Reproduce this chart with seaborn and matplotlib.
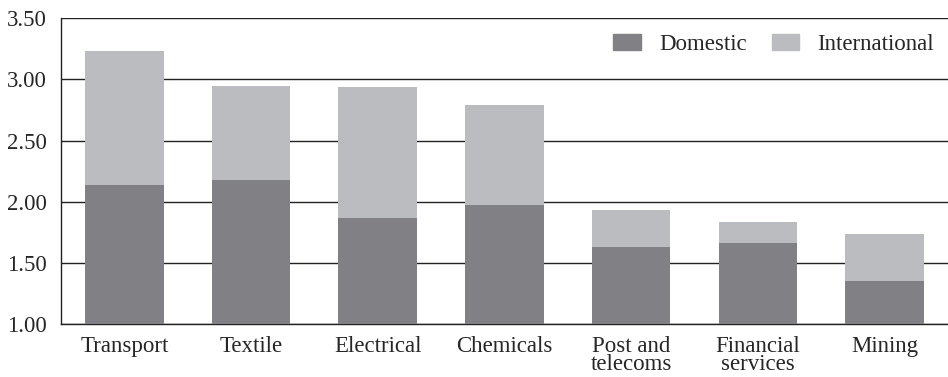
import numpy as np
import pandas as pd
import matplotlib.pyplot as plt
from matplotlib.patches import Patch
import seaborn as sns

sectors = ["Transport", "Textile", "Electrical", "Chemicals",
           "Post and\ntelecoms", "Financial\nservices", "Mining"]
domestic = [2.14, 2.18, 1.87, 1.97, 1.63, 1.66, 1.35]
international = [1.09, 0.77, 1.07, 0.82, 0.30, 0.17, 0.39]

dark = "#818185"
light = "#bbbcc0"

df = pd.DataFrame({"sector": sectors, "domestic": domestic,
                   "international": international})
df["total"] = df["domestic"] + df["international"]

sns.set_style("white")
plt.rcParams["font.family"] = ["Liberation Serif", "DejaVu Serif"]

fig = plt.figure(figsize=(9.48, 3.77), dpi=100)
ax = fig.add_axes([0.0643, 0.1406, 0.9357, 0.8109])

sns.barplot(data=df, x="sector", y="total", color=light, width=0.62,
            saturation=1, linewidth=0, ax=ax, zorder=3)
sns.barplot(data=df, x="sector", y="domestic", color=dark, width=0.62,
            saturation=1, linewidth=0, ax=ax, zorder=4)

ax.set_ylim(1.0, 3.5)
ax.set_xlim(-0.5, 6.5)
ax.set_yticks(np.arange(1.0, 3.51, 0.5))
ax.set_yticklabels([f"{v:.2f}" for v in np.arange(1.0, 3.51, 0.5)], fontsize=16.5)
ax.yaxis.grid(True, color="#222222", linewidth=1.0, zorder=0)
ax.set_axisbelow(True)

ax.set_xticks(range(len(sectors)))
ax.set_xticklabels(sectors, fontsize=16.5, linespacing=0.78)
ax.set_xticks(np.arange(-0.5, 6.0, 1.0), minor=True)
ax.tick_params(axis="x", which="major", length=0, pad=9)
ax.tick_params(axis="x", which="minor", length=8, width=1.0, color="#222222",
               direction="out")
ax.tick_params(axis="y", length=8, width=1.0, color="#222222", pad=2)
ax.set_xlabel("")
ax.set_ylabel("")

for side in ["top", "right"]:
    ax.spines[side].set_visible(False)
for side in ["left", "bottom"]:
    ax.spines[side].set_color("#222222")
    ax.spines[side].set_linewidth(1.0)

handles = [Patch(color=dark, label="Domestic"),
           Patch(color=light, label="International")]
ax.legend(handles=handles, loc="upper right", frameon=False, ncol=2,
          fontsize=16.5, handlelength=1.2, handleheight=0.75,
          columnspacing=1.1, handletextpad=0.8, borderaxespad=0.2,
          bbox_to_anchor=(1.0, 0.995))

fig.savefig("out.png", dpi=100)
